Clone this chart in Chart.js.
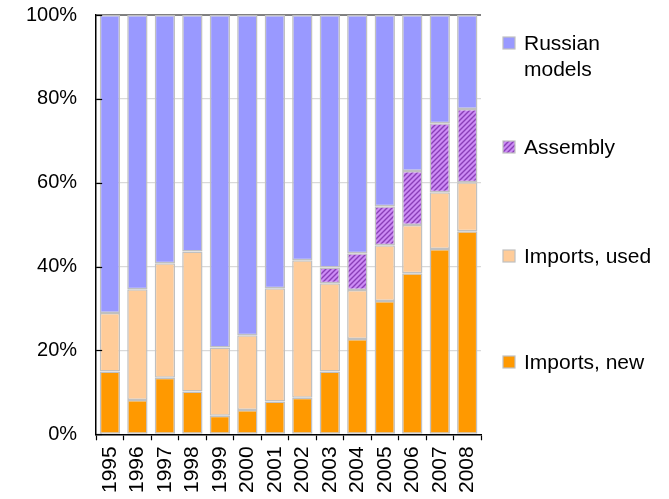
<!DOCTYPE html>
<html>
<head>
<meta charset="utf-8">
<script src="https://cdn.jsdelivr.net/npm/chart.js@4/dist/chart.umd.min.js"></script>
<style>
  html, body { margin: 0; padding: 0; background: #fff; }
  #wrap { width: 669px; height: 499px; position: relative; }
</style>
</head>
<body>
<div id="wrap"><canvas id="chart" width="669" height="499"></canvas></div>
<script>
const YEARS = ['1995', '1996', '1997', '1998', '1999', '2000', '2001', '2002', '2003', '2004', '2005', '2006', '2007', '2008'];
const IMPORTS_NEW = [15.0, 8.2, 13.5, 10.2, 4.4, 5.8, 7.8, 8.7, 15.0, 22.7, 31.8, 38.4, 44.2, 48.4];
const IMPORTS_USED = [13.9, 26.4, 27.3, 33.4, 16.3, 17.8, 27.0, 32.8, 21.0, 11.7, 13.3, 11.5, 13.5, 11.7];
const ASSEMBLY = [0, 0, 0, 0, 0, 0, 0, 0, 3.8, 8.8, 9.3, 12.9, 16.5, 17.5];
const RUSSIAN = [71.1, 65.4, 59.2, 56.4, 79.3, 76.4, 65.2, 58.5, 60.2, 56.8, 45.6, 37.2, 25.8, 22.4];
const Y_TICKS = [0, 20, 40, 60, 80, 100];

const FONT = 'Liberation Sans, Arial, sans-serif';

function hatch() {
  const c = document.createElement('canvas');
  c.width = 5; c.height = 5;
  const g = c.getContext('2d');
  g.fillStyle = '#cc8cf5';
  g.fillRect(0, 0, 5, 5);
  g.strokeStyle = '#8a3fb8';
  g.lineWidth = 1.4;
  g.beginPath();
  g.moveTo(-1, 6); g.lineTo(6, -1);
  g.moveTo(-4, 4); g.lineTo(4, -4);
  g.moveTo(1, 9); g.lineTo(9, 1);
  g.stroke();
  return g.createPattern(c, 'repeat');
}
const hatchFill = hatch();

const common = { borderColor: '#c0c0c0', borderWidth: 1.5, borderSkipped: false, barPercentage: 0.74, categoryPercentage: 1 };

// legend drawn by hand to keep the wide spacing of the original
const sideLegend = {
  id: 'sideLegend',
  afterDraw(chart) {
    const ctx = chart.ctx;
    const items = [
      { ds: 0, lines: ['Imports, new'], y: 362 },
      { ds: 1, lines: ['Imports, used'], y: 256 },
      { ds: 2, lines: ['Assembly'], y: 147 },
      { ds: 3, lines: ['Russian', 'models'], y: 43 },
    ];
    ctx.save();
    ctx.font = '21px ' + FONT;
    ctx.textBaseline = 'middle';
    items.forEach(it => {
      const ds = chart.data.datasets[it.ds];
      ctx.fillStyle = ds.backgroundColor;
      ctx.fillRect(503, it.y - 6, 12, 12);
      ctx.strokeStyle = '#c0c0c0';
      ctx.lineWidth = 1.2;
      ctx.strokeRect(503, it.y - 6, 12, 12);
      ctx.fillStyle = '#000';
      it.lines.forEach((t, i) => ctx.fillText(t, 524, it.y + 1 + i * 26));
    });
    ctx.restore();
  }
};

// inward tick marks on the value axis
const innerTicks = {
  id: 'innerTicks',
  afterDatasetsDraw(chart) {
    const y = chart.scales.y;
    const ctx = chart.ctx;
    ctx.save();
    ctx.strokeStyle = '#000';
    ctx.lineWidth = 1.2;
    Y_TICKS.forEach(v => {
      const py = Math.round(y.getPixelForValue(v)) + 0.5;
      ctx.beginPath();
      ctx.moveTo(y.right, py);
      ctx.lineTo(y.right + 6, py);
      ctx.stroke();
    });
    ctx.restore();
  }
};

new Chart(document.getElementById('chart'), {
  type: 'bar',
  data: {
    labels: YEARS,
    datasets: [
      { label: 'Imports, new', data: IMPORTS_NEW, backgroundColor: '#ff9900', ...common },
      { label: 'Imports, used', data: IMPORTS_USED, backgroundColor: '#ffcc99', ...common },
      { label: 'Assembly', data: ASSEMBLY, backgroundColor: hatchFill, ...common },
      { label: 'Russian models', data: RUSSIAN, backgroundColor: '#9999ff', ...common },
    ]
  },
  options: {
    responsive: false,
    animation: false,
    layout: { padding: { left: 23, right: 188, top: 1, bottom: 0 } },
    plugins: { legend: { display: false }, tooltip: { enabled: false } },
    scales: {
      x: {
        stacked: true,
        border: { color: '#000', width: 1.5 },
        grid: { display: true, drawOnChartArea: false, offset: true, tickLength: 6, tickColor: '#000', tickWidth: 1.2 },
        ticks: { color: '#000', font: { family: FONT, size: 21 }, maxRotation: 90, minRotation: 90, padding: 6, autoSkip: false }
      },
      y: {
        stacked: true,
        min: 0, max: 100,
        border: { color: '#000', width: 1.5 },
        grid: {
          drawTicks: true,
          tickLength: 16,
          tickColor: 'rgba(0,0,0,0)',
          color: ctx => ctx.tick && ctx.tick.value === 100 ? '#808080' : '#d9d9d9',
          lineWidth: ctx => ctx.tick && ctx.tick.value === 100 ? 2 : 1.2
        },
        afterBuildTicks: axis => { axis.ticks = Y_TICKS.map(v => ({ value: v })); },
        ticks: { color: '#000', font: { family: FONT, size: 20 }, padding: 3, callback: v => v + '%' }
      }
    }
  },
  plugins: [sideLegend, innerTicks]
});
</script>
</body>
</html>
